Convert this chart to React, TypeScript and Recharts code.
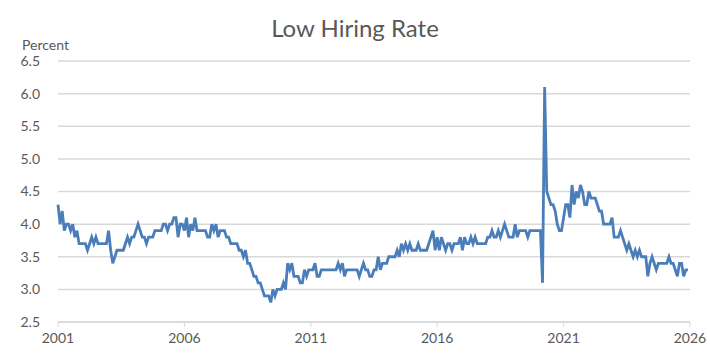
import { LineChart, Line, XAxis, YAxis, CartesianGrid } from "recharts"

// monthly low hiring rate, Jan..Dec of each year (percent)
const y2001 = [4.3, 4.0, 4.2, 3.9, 4.0, 4.0, 3.9, 4.0, 3.8, 3.9, 3.7, 3.7]
const y2002 = [3.7, 3.7, 3.6, 3.7, 3.8, 3.7, 3.8, 3.7, 3.7, 3.7, 3.7, 3.7]
const y2003 = [3.9, 3.6, 3.4, 3.5, 3.6, 3.6, 3.6, 3.6, 3.7, 3.8, 3.7, 3.8]
const y2004 = [3.8, 3.9, 4.0, 3.9, 3.8, 3.8, 3.7, 3.8, 3.8, 3.8, 3.9, 3.9]
const y2005 = [3.9, 3.9, 4.0, 4.0, 3.9, 4.0, 4.0, 4.1, 4.1, 3.8, 4.0, 4.0]
const y2006 = [3.9, 4.1, 3.8, 4.0, 3.9, 4.1, 3.9, 3.9, 3.9, 3.9, 3.9, 3.8]
const y2007 = [3.8, 4.0, 3.9, 4.0, 3.8, 3.9, 3.9, 3.9, 3.8, 3.8, 3.7, 3.7]
const y2008 = [3.7, 3.7, 3.6, 3.6, 3.5, 3.6, 3.4, 3.4, 3.3, 3.2, 3.2, 3.1]
const y2009 = [3.1, 3.0, 2.9, 2.9, 2.9, 2.8, 3.0, 2.9, 3.0, 3.0, 3.0, 3.1]
const y2010 = [3.0, 3.4, 3.3, 3.4, 3.2, 3.2, 3.2, 3.1, 3.1, 3.3, 3.2, 3.3]
const y2011 = [3.3, 3.3, 3.4, 3.2, 3.2, 3.3, 3.3, 3.3, 3.3, 3.3, 3.3, 3.3]
const y2012 = [3.3, 3.4, 3.3, 3.4, 3.2, 3.3, 3.3, 3.3, 3.3, 3.3, 3.3, 3.2]
const y2013 = [3.3, 3.4, 3.3, 3.3, 3.2, 3.2, 3.3, 3.3, 3.5, 3.3, 3.4, 3.4]
const y2014 = [3.4, 3.5, 3.5, 3.5, 3.5, 3.6, 3.5, 3.7, 3.6, 3.7, 3.6, 3.7]
const y2015 = [3.6, 3.6, 3.6, 3.7, 3.6, 3.6, 3.6, 3.6, 3.7, 3.8, 3.9, 3.6]
const y2016 = [3.8, 3.6, 3.8, 3.7, 3.6, 3.7, 3.7, 3.6, 3.7, 3.7, 3.7, 3.8]
const y2017 = [3.6, 3.8, 3.7, 3.7, 3.8, 3.7, 3.8, 3.7, 3.7, 3.7, 3.7, 3.7]
const y2018 = [3.8, 3.8, 3.9, 3.8, 3.8, 3.9, 3.8, 3.9, 4.0, 3.9, 3.8, 3.8]
const y2019 = [3.8, 4.0, 3.8, 3.9, 3.9, 3.9, 3.9, 3.8, 3.9, 3.9, 3.9, 3.9]
const y2020 = [3.9, 3.9, 3.1, 6.1, 4.5, 4.4, 4.3, 4.3, 4.2, 4.0, 3.9, 3.9]
const y2021 = [4.1, 4.3, 4.3, 4.1, 4.6, 4.3, 4.5, 4.4, 4.6, 4.5, 4.3, 4.3]
const y2022 = [4.5, 4.4, 4.4, 4.4, 4.3, 4.2, 4.2, 4.0, 4.0, 4.0, 4.0, 4.1]
const y2023 = [3.8, 3.8, 3.8, 3.9, 3.8, 3.7, 3.6, 3.7, 3.6, 3.5, 3.6, 3.5]
const y2024 = [3.6, 3.5, 3.5, 3.5, 3.2, 3.4, 3.5, 3.4, 3.3, 3.4, 3.4, 3.4]
const y2025 = [3.4, 3.4, 3.5, 3.4, 3.4, 3.3, 3.2, 3.4, 3.4, 3.2, 3.3, 3.3]

const years = [
  y2001, y2002, y2003, y2004, y2005, y2006, y2007, y2008, y2009, y2010,
  y2011, y2012, y2013, y2014, y2015, y2016, y2017, y2018, y2019, y2020,
  y2021, y2022, y2023, y2024, y2025,
]
const firstYear = 2001

const xTicks = [2001, 2006, 2011, 2016, 2021, 2026]
const yTicks = [2.5, 3.0, 3.5, 4.0, 4.5, 5.0, 5.5, 6.0, 6.5]

const data = years.flatMap((vals, i) =>
  vals.map((v, m) => ({ t: firstYear + i + m / 12, rate: v }))
)

const font = "Lato, 'Open Sans', sans-serif"
const gray = "#595959"

export default function App() {
  return (
    <div style={{ position: "absolute", left: 0, top: 0, width: 710, height: 360, background: "#fff", fontFamily: font }}>
      <div style={{ position: "absolute", top: 13, left: 0, width: 710, textAlign: "center", fontSize: 24, color: gray }}>
        Low Hiring Rate
      </div>
      <div style={{ position: "absolute", top: 36, left: 22, fontSize: 14, color: gray }}>
        Percent
      </div>
      <LineChart
        width={710}
        height={360}
        data={data}
        margin={{ top: 61, right: 20, left: 18, bottom: 8 }}
      >
        <CartesianGrid vertical={false} stroke="#d9d9d9" strokeWidth={1.5} />
        <XAxis
          dataKey="t"
          type="number"
          domain={[2001, 2026]}
          ticks={xTicks}
          height={30}
          tick={{ fontSize: 14, fill: gray, fontFamily: font }}
          axisLine={{ stroke: "#d9d9d9", strokeWidth: 1.5 }}
          tickLine={{ stroke: "#d9d9d9" }}
          tickSize={5}
          tickMargin={6}
        />
        <YAxis
          type="number"
          domain={[2.5, 6.5]}
          ticks={yTicks}
          width={40}
          tickFormatter={(v) => Number(v).toFixed(1)}
          tick={{ fontSize: 14, fill: gray, fontFamily: font }}
          axisLine={false}
          tickLine={false}
          tickSize={0}
          tickMargin={18}
        />
        <Line
          type="linear"
          dataKey="rate"
          stroke="#4a7ebb"
          strokeWidth={2.8}
          dot={false}
          isAnimationActive={false}
        />
      </LineChart>
    </div>
  )
}
